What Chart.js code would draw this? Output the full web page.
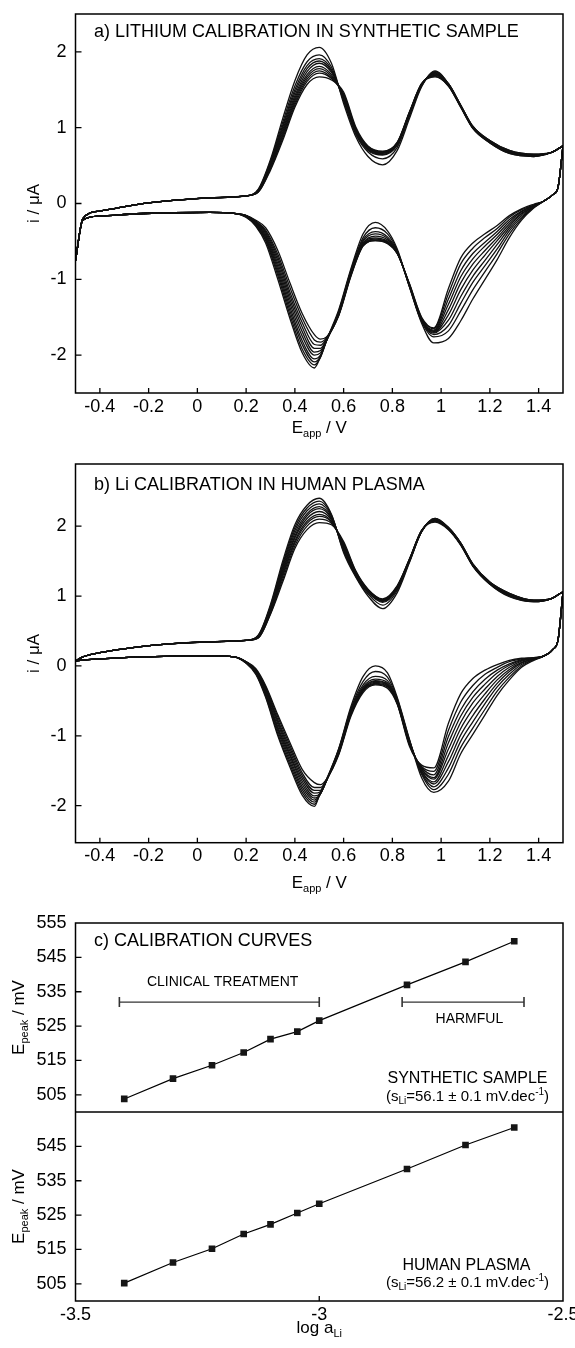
<!DOCTYPE html>
<html>
<head>
<meta charset="utf-8">
<script src="https://cdn.jsdelivr.net/npm/chart.js@4.4.1/dist/chart.umd.min.js"></script>
<style>
  html, body { margin: 0; padding: 0; background: #fff; }
  #page { position: relative; width: 575px; height: 1348px; overflow: hidden; background: #fff; }
  #page canvas { position: absolute; left: 0; }
</style>
</head>
<body>
<div id="page">
  <canvas id="cvA" width="575" height="440" style="top:0px"></canvas>
  <canvas id="cvB" width="575" height="460" style="top:440px"></canvas>
  <canvas id="calSyn" width="575" height="212" style="top:900px"></canvas>
  <canvas id="calPla" width="575" height="236" style="top:1112px"></canvas>
</div>
<script>
// ---------- data ----------
// potential grids (V) for the anodic (upper) and cathodic (lower) branches
const cvE_up = [-0.5,-0.47,-0.4,-0.25,-0.1,0.05,0.2,0.25,0.3,0.35,0.4,0.45,0.5,0.55,0.6,0.65,0.7,0.76,0.82,0.87,0.92,0.975,1.03,1.08,1.13,1.2,1.28,1.38,1.45,1.49,1.5];
const cvE_down = [-0.5,-0.47,-0.4,-0.25,-0.1,0.05,0.15,0.2,0.24,0.28,0.33,0.38,0.43,0.48,0.505,0.53,0.58,0.63,0.68,0.73,0.78,0.82,0.87,0.92,0.97,1.03,1.08,1.13,1.18,1.23,1.28,1.33,1.38,1.42,1.46,1.48,1.5];
const cvXTicks = [-0.4,-0.2,0,0.2,0.4,0.6,0.8,1,1.2,1.4];
const cvYTicks = [-2,-1,0,1,2];

// a) synthetic sample, current (uA), one row per CV
const synthUp = [
  [-0.75,-0.2,-0.1,-0.015,0.04,0.075,0.1,0.19,0.58,1.12,1.62,1.96,2.06,1.85,1.32,0.88,0.62,0.51,0.70,1.12,1.54,1.75,1.58,1.30,1.02,0.83,0.70,0.65,0.67,0.74,0.76],
  [-0.75,-0.2,-0.1,-0.015,0.04,0.075,0.1,0.18,0.56,1.07,1.55,1.87,1.96,1.80,1.35,0.91,0.68,0.59,0.74,1.15,1.55,1.74,1.58,1.30,1.02,0.83,0.70,0.65,0.67,0.74,0.76],
  [-0.75,-0.2,-0.1,-0.015,0.04,0.075,0.1,0.18,0.54,1.03,1.50,1.82,1.91,1.77,1.37,0.93,0.70,0.64,0.77,1.17,1.56,1.73,1.58,1.30,1.01,0.82,0.69,0.64,0.67,0.74,0.76],
  [-0.75,-0.2,-0.1,-0.015,0.04,0.075,0.1,0.17,0.53,1.00,1.46,1.78,1.88,1.75,1.38,0.94,0.71,0.65,0.78,1.18,1.56,1.72,1.57,1.29,1.01,0.82,0.69,0.64,0.67,0.74,0.76],
  [-0.75,-0.2,-0.1,-0.015,0.04,0.075,0.1,0.17,0.52,0.97,1.42,1.74,1.85,1.73,1.40,0.95,0.72,0.66,0.78,1.18,1.57,1.71,1.57,1.29,1.01,0.82,0.68,0.64,0.67,0.74,0.76],
  [-0.75,-0.2,-0.1,-0.015,0.04,0.075,0.1,0.17,0.50,0.94,1.39,1.70,1.81,1.70,1.41,0.96,0.73,0.67,0.79,1.19,1.57,1.71,1.57,1.29,1.00,0.81,0.68,0.63,0.67,0.74,0.76],
  [-0.75,-0.2,-0.1,-0.015,0.04,0.075,0.1,0.16,0.49,0.91,1.36,1.67,1.78,1.68,1.42,0.97,0.74,0.67,0.79,1.19,1.57,1.70,1.56,1.28,1.00,0.81,0.67,0.63,0.67,0.74,0.76],
  [-0.75,-0.2,-0.1,-0.015,0.04,0.075,0.1,0.16,0.47,0.89,1.33,1.64,1.75,1.66,1.43,0.98,0.75,0.68,0.80,1.20,1.58,1.69,1.56,1.28,1.00,0.81,0.67,0.63,0.67,0.74,0.76],
  [-0.75,-0.2,-0.1,-0.015,0.04,0.075,0.1,0.15,0.46,0.86,1.30,1.61,1.72,1.65,1.45,0.99,0.75,0.68,0.80,1.20,1.58,1.68,1.55,1.28,0.99,0.80,0.66,0.62,0.67,0.74,0.76],
  [-0.75,-0.2,-0.1,-0.015,0.04,0.075,0.1,0.15,0.44,0.83,1.27,1.57,1.67,1.63,1.47,1.01,0.76,0.69,0.81,1.21,1.58,1.67,1.55,1.27,0.99,0.80,0.66,0.62,0.67,0.74,0.76]
];
const synthDown = [
  [-0.75,-0.22,-0.165,-0.135,-0.122,-0.118,-0.13,-0.18,-0.30,-0.52,-1.00,-1.52,-1.97,-2.17,-2.02,-1.80,-1.40,-0.86,-0.40,-0.25,-0.36,-0.60,-1.10,-1.58,-1.84,-1.78,-1.55,-1.26,-1.00,-0.74,-0.45,-0.22,-0.06,0.03,0.12,0.22,0.76],
  [-0.75,-0.22,-0.165,-0.135,-0.122,-0.118,-0.13,-0.18,-0.29,-0.49,-0.95,-1.47,-1.92,-2.13,-2.03,-1.81,-1.42,-0.88,-0.45,-0.32,-0.40,-0.62,-1.10,-1.56,-1.76,-1.68,-1.42,-1.14,-0.90,-0.66,-0.40,-0.20,-0.05,0.03,0.12,0.22,0.76],
  [-0.75,-0.22,-0.165,-0.135,-0.122,-0.118,-0.13,-0.17,-0.28,-0.47,-0.91,-1.42,-1.86,-2.09,-2.02,-1.81,-1.43,-0.89,-0.48,-0.37,-0.44,-0.63,-1.09,-1.55,-1.73,-1.61,-1.32,-1.04,-0.82,-0.60,-0.36,-0.18,-0.05,0.03,0.12,0.22,0.76],
  [-0.75,-0.22,-0.165,-0.135,-0.122,-0.118,-0.13,-0.17,-0.27,-0.45,-0.87,-1.37,-1.81,-2.05,-2.00,-1.81,-1.44,-0.90,-0.50,-0.40,-0.46,-0.64,-1.09,-1.55,-1.71,-1.54,-1.23,-0.96,-0.75,-0.54,-0.33,-0.16,-0.04,0.03,0.12,0.22,0.76],
  [-0.75,-0.22,-0.165,-0.135,-0.122,-0.118,-0.13,-0.17,-0.26,-0.43,-0.83,-1.32,-1.75,-2.00,-1.97,-1.81,-1.45,-0.91,-0.52,-0.43,-0.48,-0.64,-1.08,-1.54,-1.70,-1.47,-1.14,-0.88,-0.68,-0.49,-0.30,-0.14,-0.04,0.03,0.12,0.22,0.76],
  [-0.75,-0.22,-0.165,-0.135,-0.122,-0.118,-0.13,-0.16,-0.25,-0.41,-0.79,-1.27,-1.69,-1.96,-1.94,-1.80,-1.45,-0.92,-0.53,-0.455,-0.50,-0.65,-1.08,-1.54,-1.69,-1.40,-1.05,-0.80,-0.62,-0.45,-0.27,-0.13,-0.03,0.03,0.12,0.22,0.76],
  [-0.75,-0.22,-0.165,-0.135,-0.122,-0.118,-0.13,-0.16,-0.25,-0.39,-0.75,-1.22,-1.63,-1.91,-1.91,-1.79,-1.46,-0.93,-0.54,-0.47,-0.51,-0.65,-1.07,-1.53,-1.68,-1.33,-0.97,-0.73,-0.56,-0.41,-0.24,-0.11,-0.03,0.03,0.12,0.22,0.76],
  [-0.75,-0.22,-0.165,-0.135,-0.122,-0.118,-0.13,-0.16,-0.24,-0.37,-0.71,-1.17,-1.57,-1.86,-1.87,-1.78,-1.47,-0.94,-0.55,-0.48,-0.52,-0.66,-1.07,-1.52,-1.67,-1.26,-0.89,-0.66,-0.51,-0.37,-0.21,-0.10,-0.02,0.03,0.12,0.22,0.76],
  [-0.75,-0.22,-0.165,-0.135,-0.122,-0.118,-0.13,-0.16,-0.23,-0.35,-0.67,-1.11,-1.51,-1.80,-1.83,-1.77,-1.47,-0.95,-0.56,-0.49,-0.52,-0.66,-1.06,-1.51,-1.65,-1.19,-0.80,-0.59,-0.45,-0.33,-0.18,-0.08,-0.02,0.03,0.12,0.22,0.76],
  [-0.75,-0.22,-0.165,-0.135,-0.122,-0.118,-0.13,-0.155,-0.22,-0.32,-0.62,-1.05,-1.45,-1.73,-1.79,-1.76,-1.48,-0.96,-0.56,-0.49,-0.53,-0.66,-1.06,-1.50,-1.64,-1.12,-0.72,-0.52,-0.40,-0.29,-0.16,-0.07,-0.01,0.03,0.12,0.22,0.76]
];

// b) human plasma
const plasmaUp = [
  [0.07,0.13,0.19,0.27,0.32,0.345,0.365,0.44,0.88,1.50,2.02,2.30,2.40,2.17,1.62,1.27,1.00,0.82,1.05,1.48,1.92,2.11,1.98,1.76,1.46,1.20,1.04,0.94,0.96,1.04,1.06],
  [0.07,0.13,0.19,0.27,0.32,0.345,0.365,0.44,0.86,1.46,1.98,2.26,2.36,2.16,1.64,1.28,1.03,0.87,1.08,1.49,1.92,2.11,1.98,1.76,1.46,1.20,1.04,0.94,0.96,1.04,1.06],
  [0.07,0.13,0.19,0.27,0.32,0.345,0.365,0.43,0.84,1.43,1.94,2.22,2.32,2.14,1.66,1.29,1.05,0.91,1.10,1.50,1.92,2.10,1.98,1.76,1.45,1.19,1.03,0.94,0.96,1.04,1.06],
  [0.07,0.13,0.19,0.27,0.32,0.345,0.365,0.43,0.83,1.40,1.90,2.18,2.28,2.12,1.68,1.30,1.06,0.92,1.11,1.50,1.93,2.10,1.97,1.75,1.45,1.19,1.03,0.93,0.96,1.04,1.06],
  [0.07,0.13,0.19,0.27,0.32,0.345,0.365,0.42,0.81,1.37,1.86,2.15,2.25,2.11,1.70,1.31,1.07,0.93,1.12,1.51,1.93,2.09,1.97,1.75,1.45,1.19,1.02,0.93,0.96,1.04,1.06],
  [0.07,0.13,0.19,0.27,0.32,0.345,0.365,0.42,0.80,1.34,1.83,2.11,2.21,2.09,1.71,1.32,1.08,0.935,1.12,1.51,1.93,2.09,1.97,1.75,1.44,1.18,1.02,0.93,0.96,1.04,1.06],
  [0.07,0.13,0.19,0.27,0.32,0.345,0.365,0.41,0.78,1.31,1.79,2.07,2.17,2.07,1.73,1.33,1.08,0.94,1.13,1.52,1.93,2.08,1.96,1.74,1.44,1.18,1.01,0.93,0.96,1.04,1.06],
  [0.07,0.13,0.19,0.27,0.32,0.345,0.365,0.41,0.77,1.28,1.76,2.04,2.14,2.06,1.74,1.34,1.09,0.945,1.13,1.52,1.94,2.08,1.96,1.74,1.44,1.18,1.01,0.92,0.96,1.04,1.06],
  [0.07,0.13,0.19,0.27,0.32,0.345,0.365,0.40,0.75,1.24,1.72,2.00,2.10,2.04,1.76,1.35,1.09,0.95,1.14,1.53,1.94,2.07,1.96,1.74,1.43,1.17,1.00,0.92,0.96,1.04,1.06],
  [0.07,0.13,0.19,0.27,0.32,0.345,0.365,0.40,0.74,1.20,1.68,1.95,2.05,2.02,1.78,1.36,1.10,0.96,1.15,1.53,1.94,2.06,1.95,1.73,1.43,1.17,0.99,0.92,0.96,1.04,1.06]
];
const plasmaDown = [
  [0.07,0.085,0.10,0.125,0.14,0.145,0.13,0.04,-0.12,-0.45,-1.00,-1.45,-1.85,-2.01,-1.80,-1.62,-1.18,-0.58,-0.15,0.00,-0.10,-0.45,-1.05,-1.60,-1.81,-1.65,-1.26,-0.98,-0.70,-0.42,-0.20,-0.02,0.08,0.14,0.24,0.38,1.06],
  [0.07,0.085,0.10,0.125,0.14,0.145,0.13,0.04,-0.11,-0.43,-0.97,-1.41,-1.81,-1.98,-1.82,-1.63,-1.19,-0.61,-0.22,-0.08,-0.16,-0.47,-1.06,-1.55,-1.77,-1.55,-1.17,-0.89,-0.62,-0.36,-0.16,0.00,0.09,0.14,0.24,0.38,1.06],
  [0.07,0.085,0.10,0.125,0.14,0.145,0.13,0.05,-0.10,-0.41,-0.93,-1.37,-1.77,-1.95,-1.83,-1.64,-1.20,-0.63,-0.27,-0.15,-0.21,-0.49,-1.07,-1.53,-1.73,-1.46,-1.08,-0.80,-0.54,-0.30,-0.12,0.02,0.09,0.14,0.24,0.38,1.06],
  [0.07,0.085,0.10,0.125,0.14,0.145,0.13,0.05,-0.09,-0.39,-0.90,-1.33,-1.73,-1.92,-1.83,-1.64,-1.21,-0.65,-0.30,-0.19,-0.24,-0.50,-1.08,-1.51,-1.69,-1.37,-0.99,-0.71,-0.47,-0.25,-0.08,0.04,0.10,0.14,0.24,0.38,1.06],
  [0.07,0.085,0.10,0.125,0.14,0.145,0.13,0.05,-0.08,-0.37,-0.87,-1.29,-1.69,-1.89,-1.83,-1.64,-1.22,-0.66,-0.32,-0.21,-0.26,-0.51,-1.09,-1.50,-1.66,-1.28,-0.90,-0.62,-0.40,-0.20,-0.05,0.05,0.10,0.14,0.24,0.38,1.06],
  [0.07,0.085,0.10,0.125,0.14,0.145,0.13,0.05,-0.07,-0.35,-0.83,-1.26,-1.65,-1.86,-1.82,-1.64,-1.23,-0.67,-0.33,-0.22,-0.27,-0.52,-1.10,-1.48,-1.62,-1.19,-0.81,-0.53,-0.33,-0.15,-0.02,0.07,0.11,0.14,0.24,0.38,1.06],
  [0.07,0.085,0.10,0.125,0.14,0.145,0.13,0.06,-0.06,-0.33,-0.80,-1.22,-1.61,-1.82,-1.80,-1.64,-1.24,-0.68,-0.34,-0.235,-0.28,-0.53,-1.11,-1.47,-1.60,-1.10,-0.72,-0.45,-0.26,-0.10,0.01,0.08,0.11,0.14,0.24,0.38,1.06],
  [0.07,0.085,0.10,0.125,0.14,0.145,0.13,0.06,-0.06,-0.32,-0.77,-1.18,-1.57,-1.78,-1.78,-1.63,-1.25,-0.69,-0.35,-0.25,-0.29,-0.53,-1.12,-1.45,-1.56,-1.01,-0.63,-0.37,-0.19,-0.06,0.03,0.09,0.11,0.14,0.24,0.38,1.06],
  [0.07,0.085,0.10,0.125,0.14,0.145,0.13,0.06,-0.05,-0.30,-0.73,-1.14,-1.53,-1.74,-1.74,-1.63,-1.26,-0.70,-0.36,-0.26,-0.30,-0.54,-1.13,-1.44,-1.51,-0.92,-0.52,-0.28,-0.12,-0.02,0.06,0.10,0.12,0.14,0.24,0.38,1.06],
  [0.07,0.085,0.10,0.125,0.14,0.145,0.13,0.06,-0.04,-0.28,-0.70,-1.10,-1.48,-1.67,-1.70,-1.62,-1.27,-0.72,-0.38,-0.27,-0.32,-0.55,-1.15,-1.42,-1.46,-0.82,-0.40,-0.18,-0.06,0.02,0.08,0.11,0.12,0.14,0.24,0.38,1.06]
];

// c) calibration curves: log a(Li) vs peak potential (mV)
const logA = [-3.40,-3.30,-3.22,-3.155,-3.10,-3.045,-3.00,-2.82,-2.70,-2.60];
const epSynthetic = [503.8,509.7,513.6,517.3,521.2,523.4,526.6,537.0,543.7,549.7];
const epPlasma = [505.2,511.2,515.2,519.5,522.3,525.6,528.3,538.4,545.4,550.5];
const calXTicks = [-3.5,-3,-2.5];
const calYTicksSyn = [505,515,525,535,545,555];
const calYTicksPla = [505,515,525,535,545];
const clinicalRange = [-3.41,-3.0];
const harmfulRange = [-2.83,-2.58];
const rangeLevel = 532;

// ---------- drawing helpers ----------
const FONT = '"Liberation Sans", Arial, Helvetica, sans-serif';
const TICK_SIZE = 18;
Chart.defaults.font.family = FONT;
Chart.defaults.color = '#000';

function drawRich(ctx, t) {
  ctx.save();
  ctx.translate(t.x, t.y);
  if (t.rot) ctx.rotate(t.rot);
  ctx.fillStyle = '#000';
  ctx.textBaseline = 'alphabetic';
  let w = 0;
  t.parts.forEach(p => { ctx.font = p[1] + 'px ' + FONT; w += ctx.measureText(p[0]).width; });
  let cx = t.align === 'center' ? -w / 2 : 0;
  t.parts.forEach(p => {
    ctx.font = p[1] + 'px ' + FONT;
    ctx.fillText(p[0], cx, p[2]);
    cx += ctx.measureText(p[0]).width;
  });
  ctx.restore();
}

// box around the plot, inner tick marks and the free texts
function framePlugin(texts, withXTicks) {
  return {
    id: 'frame',
    afterDatasetsDraw(chart) {
      const { ctx, chartArea: a, scales } = chart;
      ctx.save();
      ctx.strokeStyle = '#000';
      ctx.lineWidth = 1.5;
      ctx.strokeRect(a.left, a.top, a.right - a.left, a.bottom - a.top);
      ctx.lineWidth = 1.3;
      ctx.beginPath();
      if (withXTicks) {
        scales.x.ticks.forEach(t => {
          const px = scales.x.getPixelForValue(t.value);
          if (px > a.left + 2 && px < a.right - 2) { ctx.moveTo(px, a.bottom); ctx.lineTo(px, a.bottom - 5); }
        });
      }
      scales.y.ticks.forEach(t => {
        const py = scales.y.getPixelForValue(t.value);
        if (py > a.top + 2 && py < a.bottom - 2) { ctx.moveTo(a.left, py); ctx.lineTo(a.left + 6, py); }
      });
      ctx.stroke();
      ctx.restore();
      texts.forEach(t => drawRich(ctx, t));
    }
  };
}

function tickList(values) {
  return scale => { scale.ticks = values.map(v => ({ value: v })); };
}

function lineSet(xs, ys) {
  return {
    data: xs.map((x, i) => ({ x: x, y: ys[i] })),
    borderColor: '#111',
    borderWidth: 1.3,
    pointRadius: 0,
    cubicInterpolationMode: 'monotone',
    fill: false
  };
}

function axisX(min, max, ticks, height, show) {
  return {
    type: 'linear', min: min, max: max, display: show,
    afterBuildTicks: tickList(ticks),
    afterFit: s => { s.height = height; s.paddingLeft = 0; s.paddingRight = 0; },
    grid: { display: false, drawTicks: false },
    border: { display: false },
    ticks: { font: { size: TICK_SIZE }, color: '#000', padding: 3, autoSkip: false, maxRotation: 0, callback: v => String(v) }
  };
}

function axisY(min, max, ticks) {
  return {
    type: 'linear', min: min, max: max,
    afterBuildTicks: tickList(ticks),
    afterFit: s => { s.width = 75.5; s.paddingTop = 0; s.paddingBottom = 0; },
    grid: { display: false, drawTicks: false },
    border: { display: false },
    ticks: { font: { size: TICK_SIZE }, color: '#000', padding: 9, autoSkip: false, callback: v => String(v) }
  };
}

function baseOptions(pad, scales) {
  return {
    responsive: false,
    devicePixelRatio: 1,
    animation: false,
    events: [],
    layout: { padding: pad, autoPadding: false },
    plugins: { legend: { display: false }, tooltip: { enabled: false } },
    scales: scales
  };
}

const EAPP = [['E', 17, 0], ['app', 11, 4], [' / V', 17, 0]];
const EPEAK = [['E', 17, 0], ['peak', 11, 4], [' / mV', 17, 0]];
const ROT = -Math.PI / 2;

function cvChart(id, up, down, yMin, yMax, xAxisH, padTop, texts) {
  const sets = [];
  up.forEach(r => sets.push(lineSet(cvE_up, r)));
  down.forEach(r => sets.push(lineSet(cvE_down, r)));
  new Chart(document.getElementById(id), {
    type: 'line',
    data: { datasets: sets },
    options: baseOptions({ left: 0, right: 12, top: padTop, bottom: 0 }, {
      x: axisX(-0.5, 1.5, cvXTicks, xAxisH, true),
      y: axisY(yMin, yMax, cvYTicks)
    }),
    plugins: [framePlugin(texts, true)]
  });
}

cvChart('cvA', synthUp, synthDown, -2.5, 2.5, 47, 14, [
  { x: 94, y: 37, parts: [['a) LITHIUM CALIBRATION IN SYNTHETIC SAMPLE', 18, 0]] },
  { x: 38.5, y: 203.5, rot: ROT, align: 'center', parts: [['i / μA', 17, 0]] },
  { x: 319.3, y: 432.5, align: 'center', parts: EAPP }
]);

cvChart('cvB', plasmaUp, plasmaDown, -2.53, 2.89, 57.3, 24, [
  { x: 94, y: 50, parts: [['b) Li CALIBRATION IN HUMAN PLASMA', 18, 0]] },
  { x: 38.5, y: 213.4, rot: ROT, align: 'center', parts: [['i / μA', 17, 0]] },
  { x: 319.3, y: 448, align: 'center', parts: EAPP }
]);

function calSet(values) {
  return {
    data: logA.map((x, i) => ({ x: x, y: values[i] })),
    borderColor: '#000',
    borderWidth: 1.2,
    pointStyle: 'rect',
    pointRadius: 4.7,
    pointBackgroundColor: '#151515',
    pointBorderColor: '#151515',
    pointBorderWidth: 0,
    tension: 0,
    fill: false
  };
}

function rangeSet(range) {
  return {
    data: range.map(x => ({ x: x, y: rangeLevel })),
    borderColor: '#333',
    borderWidth: 1.3,
    pointStyle: 'line',
    pointRotation: 90,
    pointRadius: 5,
    pointBorderColor: '#333',
    pointBorderWidth: 1.6,
    fill: false
  };
}

new Chart(document.getElementById('calSyn'), {
  type: 'line',
  data: { datasets: [calSet(epSynthetic), rangeSet(clinicalRange), rangeSet(harmfulRange)] },
  options: baseOptions({ left: 0, right: 12, top: 23, bottom: 0 }, {
    x: axisX(-3.5, -2.5, calXTicks, 0, false),
    y: axisY(500, 555, calYTicksSyn)
  }),
  plugins: [framePlugin([
    { x: 94, y: 46, parts: [['c) CALIBRATION CURVES', 18, 0]] },
    { x: 23.5, y: 117.5, rot: ROT, align: 'center', parts: EPEAK },
    { x: 222.6, y: 86, align: 'center', parts: [['CLINICAL TREATMENT', 14, 0]] },
    { x: 469.4, y: 123.3, align: 'center', parts: [['HARMFUL', 14, 0]] },
    { x: 467.5, y: 183.3, align: 'center', parts: [['SYNTHETIC SAMPLE', 16, 0]] },
    { x: 467.5, y: 200.7, align: 'center', parts: [['(s', 15, 0], ['Li', 10, 3], ['=56.1 ± 0.1 mV.dec', 15, 0], ['-1', 10, -6], [')', 15, 0]] }
  ], false)]
});

new Chart(document.getElementById('calPla'), {
  type: 'line',
  data: { datasets: [calSet(epPlasma)] },
  options: baseOptions({ left: 0, right: 12, top: 0, bottom: 0 }, {
    x: axisX(-3.5, -2.5, calXTicks, 47, true),
    y: axisY(500, 555, calYTicksPla)
  }),
  plugins: [framePlugin([
    { x: 23.5, y: 94.5, rot: ROT, align: 'center', parts: EPEAK },
    { x: 466.5, y: 158, align: 'center', parts: [['HUMAN PLASMA', 16, 0]] },
    { x: 467.5, y: 174.7, align: 'center', parts: [['(s', 15, 0], ['Li', 10, 3], ['=56.2 ± 0.1 mV.dec', 15, 0], ['-1', 10, -6], [')', 15, 0]] },
    { x: 319.3, y: 221, align: 'center', parts: [['log a', 17, 0], ['Li', 11, 4]] }
  ], true)]
});
</script>
</body>
</html>
